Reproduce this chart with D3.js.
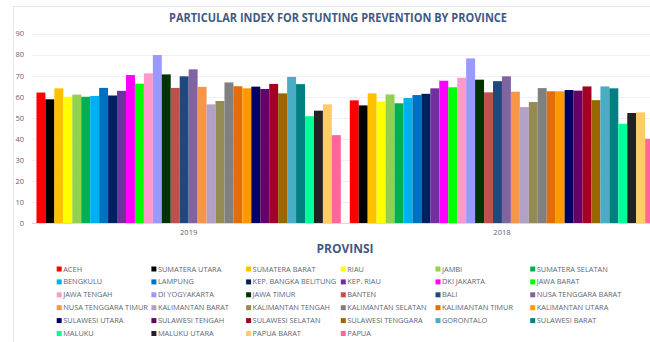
<!DOCTYPE html>
<html>
<head>
<meta charset="utf-8">
<script src="https://cdn.jsdelivr.net/npm/d3@7"></script>
<style>
  html, body { margin: 0; padding: 0; background: #fff; }
  svg { display: block; font-family: "Open Sans", "Liberation Sans", sans-serif; }
</style>
</head>
<body>
<svg id="chart" width="650" height="342"></svg>
<script>
const years = ['2019', '2018'];

const provinces = [
  'ACEH', 'SUMATERA UTARA', 'SUMATERA BARAT', 'RIAU', 'JAMBI', 'SUMATERA SELATAN',
  'BENGKULU', 'LAMPUNG', 'KEP. BANGKA BELITUNG', 'KEP. RIAU', 'DKI JAKARTA', 'JAWA BARAT',
  'JAWA TENGAH', 'DI YOGYAKARTA', 'JAWA TIMUR', 'BANTEN', 'BALI', 'NUSA TENGGARA BARAT',
  'NUSA TENGGARA TIMUR', 'KALIMANTAN BARAT', 'KALIMANTAN TENGAH', 'KALIMANTAN SELATAN', 'KALIMANTAN TIMUR', 'KALIMANTAN UTARA',
  'SULAWESI UTARA', 'SULAWESI TENGAH', 'SULAWESI SELATAN', 'SULAWESI TENGGARA', 'GORONTALO', 'SULAWESI BARAT',
  'MALUKU', 'MALUKU UTARA', 'PAPUA BARAT', 'PAPUA'
];

const provinceColors = [
  '#ff0000', '#000000', '#ffc000', '#ffff00', '#92d050', '#00b050',
  '#00b0f0', '#0070c0', '#002060', '#7030a0', '#ff00ff', '#00ff00',
  '#ff99cc', '#9999ff', '#003300', '#c0504d', '#1f497d', '#8064a2',
  '#f79646', '#b2a1c7', '#948a54', '#808080', '#e46c0a', '#ff9900',
  '#000066', '#660066', '#a50021', '#996600', '#4bacc6', '#008080',
  '#00ff99', '#222222', '#ffcc66', '#ff6699'
];

const values2019 = [
  62, 58.8, 64, 60, 61, 60,
  60.4, 64.2, 60.6, 62.8, 70.3, 66.2,
  71.1, 79.8, 70.6, 64.2, 69.7, 73,
  64.7, 56.4, 58, 66.8, 65, 64,
  64.8, 63.7, 66.1, 61.6, 69.4, 66,
  50.8, 53.4, 56.4, 41.8
];

const values2018 = [
  58.3, 55.9, 61.6, 57.8, 61.1, 56.9,
  59.4, 60.8, 61.4, 64, 67.6, 64.5,
  69, 78.2, 68.1, 62.1, 67.4, 69.7,
  62.4, 55.1, 57.5, 64.1, 62.6, 62.6,
  63.2, 62.9, 64.9, 58.4, 64.9, 64,
  47.2, 52.3, 52.6, 40.1
];

const yTicks = [0, 10, 20, 30, 40, 50, 60, 70, 80, 90];

const seriesByYear = { '2019': values2019, '2018': values2018 };

const svg = d3.select('#chart');
const textColor = '#5d6675';
const titleColor = '#3f5a82';

// outer chart frame
svg.append('rect')
  .attr('x', 13.5).attr('y', 6.5)
  .attr('width', 660).attr('height', 360)
  .attr('fill', 'none')
  .attr('stroke', '#e3e8ef');

svg.append('text')
  .attr('x', 338).attr('y', 22)
  .attr('text-anchor', 'middle')
  .attr('font-size', 12)
  .attr('font-weight', 'bold')
  .attr('fill', titleColor)
  .attr('textLength', 338)
  .attr('lengthAdjust', 'spacingAndGlyphs')
  .text('PARTICULAR INDEX FOR STUNTING PREVENTION BY PROVINCE');

const x0 = d3.scaleBand().domain(years).range([32, 658.6]).paddingInner(0).paddingOuter(0);
const x1 = d3.scaleBand().domain(provinces).range([0, x0.bandwidth()]).paddingInner(0).paddingOuter(0.5);
const y = d3.scaleLinear().domain([0, 90]).range([223.3, 33.5]);

// gridlines
svg.append('g')
  .selectAll('line')
  .data(yTicks.filter((t) => t > 0))
  .join('line')
  .attr('x1', 32).attr('x2', 650)
  .attr('y1', (t) => Math.round(y(t)) + 0.5)
  .attr('y2', (t) => Math.round(y(t)) + 0.5)
  .attr('stroke', '#edf0f5');

// y axis labels
const yAxis = svg.append('g')
  .attr('transform', 'translate(24,0)')
  .call(d3.axisLeft(y).tickValues(yTicks).tickSize(0).tickPadding(0));
yAxis.select('.domain').remove();
yAxis.selectAll('text')
  .attr('font-size', 7.5)
  .attr('fill', textColor)
  .attr('font-family', '"Open Sans", sans-serif');

// bars
const groups = svg.append('g')
  .selectAll('g')
  .data(years)
  .join('g')
  .attr('transform', (yr) => `translate(${x0(yr)},0)`);

groups.selectAll('rect')
  .data((yr) => provinces.map((p, i) => ({ province: p, value: seriesByYear[yr][i], color: provinceColors[i] })))
  .join('rect')
  .attr('x', (d) => x1(d.province))
  .attr('width', x1.bandwidth())
  .attr('y', (d) => y(d.value))
  .attr('height', (d) => y(0) - y(d.value))
  .attr('fill', (d) => d.color);

// baseline
svg.append('line')
  .attr('x1', 32).attr('x2', 650)
  .attr('y1', Math.round(y(0)) + 0.5).attr('y2', Math.round(y(0)) + 0.5)
  .attr('stroke', '#d9d9d9');

// x axis labels
const xAxis = svg.append('g')
  .attr('transform', `translate(0,${y(0)})`)
  .call(d3.axisBottom(x0).tickSize(0).tickPadding(6));
xAxis.select('.domain').remove();
xAxis.selectAll('text')
  .attr('font-size', 7.5)
  .attr('fill', textColor)
  .attr('font-family', '"Open Sans", sans-serif');

svg.append('text')
  .attr('x', 345).attr('y', 253)
  .attr('text-anchor', 'middle')
  .attr('font-size', 12)
  .attr('font-weight', 'bold')
  .attr('fill', titleColor)
  .text('PROVINSI');

// legend, 6 columns
const legendCol = d3.scaleLinear().domain([0, 1]).range([56.7, 151.4]);
const legendRow = d3.scaleLinear().domain([0, 1]).range([269, 281.9]);

const legend = svg.append('g')
  .selectAll('g')
  .data(provinces)
  .join('g')
  .attr('transform', (p, i) => `translate(${legendCol(i % 6)},${legendRow(Math.floor(i / 6))})`);

legend.append('rect')
  .attr('x', 0).attr('y', -2.5)
  .attr('width', 5).attr('height', 5)
  .attr('fill', (p, i) => provinceColors[i]);

legend.append('text')
  .attr('x', 6.5).attr('y', 0)
  .attr('dy', '0.35em')
  .attr('font-size', 7.4)
  .attr('fill', textColor)
  .text((p) => p);
</script>
</body>
</html>
